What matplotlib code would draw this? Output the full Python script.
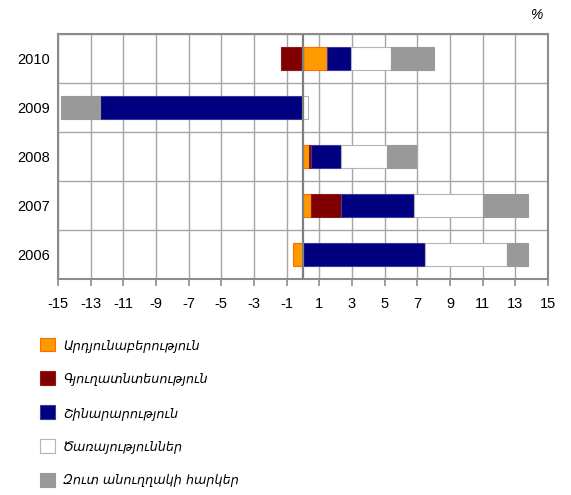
import matplotlib.pyplot as plt
import numpy as np

plt.rcParams['font.family'] = ['Liberation Sans', 'DejaVu Sans']

years = ['2006', '2007', '2008', '2009', '2010']

# contributions, % points
industry = [-0.59, 0.51, 0.38, 0.0, 1.49]
agriculture = [0.0, 1.81, 0.13, -0.05, -1.33]
construction = [7.49, 4.45, 1.81, -12.38, 1.45]
services = [5.03, 4.24, 2.81, 0.33, 2.45]
taxes = [1.27, 2.77, 1.77, -2.37, 2.60]

labels = ['Արդյունաբերություն', 'Գյուղատնտեսություն', 'Շինարարություն',
          'Ծառայություններ', 'Զուտ անուղղակի հարկեր']
colors = ['#ff9900', '#800000', '#000080', '#ffffff', '#999999']
edges = ['#ff6a00', '#8c1a1a', '#3a3aa0', '#b4b4b4', '#999999']

xticks = list(range(-15, 16, 2))

fig = plt.figure(figsize=(5.71, 4.95), dpi=100)
ax = fig.add_axes([58 / 571, 216 / 495, 490 / 571, 245 / 495])

y = np.arange(len(years))
pos_base = np.zeros(len(years))
neg_base = np.zeros(len(years))
handles = []
for vals, lab, col, ec in zip([industry, agriculture, construction, services, taxes],
                              labels, colors, edges):
    vals = np.array(vals)
    left = np.where(vals >= 0, pos_base, neg_base)
    b = ax.barh(y, vals, left=left, height=0.47, color=col, edgecolor=ec,
                linewidth=0.8, label=lab, zorder=3)
    handles.append(b)
    pos_base = pos_base + np.where(vals > 0, vals, 0)
    neg_base = neg_base + np.where(vals < 0, vals, 0)

ax.set_xlim(-15, 15)
ax.set_ylim(-0.5, len(years) - 0.5)
ax.set_xticks(xticks)
ax.set_xticklabels([str(t) for t in xticks], fontsize=10.5)
ax.set_yticks(y)
ax.set_yticklabels(years, fontsize=10.5)
ax.set_yticks(np.arange(len(years) + 1) - 0.5, minor=True)

ax.grid(axis='x', color='#a6a6a6', linewidth=1.0, zorder=0)
ax.grid(axis='y', which='minor', color='#a6a6a6', linewidth=1.0, zorder=0)
ax.axvline(0, color='#7f7f7f', linewidth=1.6, zorder=4)

for s in ax.spines.values():
    s.set_color('#8c8c8c')
    s.set_linewidth(1.5)
ax.tick_params(axis='x', colors='#8c8c8c', length=5, width=1.2, labelcolor='black', pad=8)
ax.tick_params(axis='y', which='both', length=0, labelcolor='black', pad=6)

fig.text(530 / 571, 1 - 15 / 495, '%', fontsize=10, style='italic', ha='left', va='center')

leg = fig.legend(handles=handles, loc='upper left', bbox_to_anchor=(28 / 571, 1 - 326 / 495),
                 frameon=False, ncol=1, handlelength=1.25, handleheight=1.25,
                 handletextpad=0.6, labelspacing=1.56,
                 prop={'family': ['DejaVu Sans'], 'style': 'italic', 'size': 9.2})

fig.savefig('out.png', dpi=100)
